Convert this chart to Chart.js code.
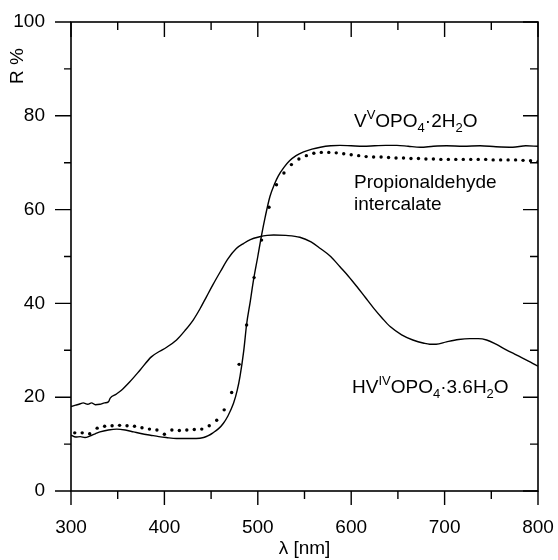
<!DOCTYPE html>
<html>
<head>
<meta charset="utf-8">
<script src="https://cdn.jsdelivr.net/npm/chart.js@4"></script>
<style>
  html, body { margin: 0; padding: 0; background: #fff; }
  #wrap { width: 558px; height: 560px; position: relative; }
</style>
</head>
<body>
<div id="wrap"><canvas id="spectra"></canvas></div>
<script>
// wavelength (nm) / reflectance (%)
const hvWave = [300, 305, 310, 313, 318, 322, 326, 331, 336, 340, 342, 348, 354, 363, 374, 386, 395, 402, 413, 422, 431, 438, 445, 452, 460, 468, 477, 485, 492, 502, 510, 517, 530, 545, 557, 567, 578, 588, 597, 606, 615, 624, 633, 642, 654, 666, 678, 684, 691, 702, 715, 727, 736, 745, 755, 766, 775, 784, 792, 800];
const hvR    = [18.0, 18.3, 18.6, 18.8, 18.5, 18.8, 18.4, 18.5, 18.8, 19.0, 19.8, 20.6, 21.5, 23.3, 25.8, 28.6, 29.8, 30.6, 32.2, 34.2, 36.5, 38.8, 41.4, 44.0, 46.8, 49.5, 51.7, 52.8, 53.6, 54.2, 54.5, 54.6, 54.5, 54.1, 53.1, 51.7, 50.0, 47.8, 45.8, 43.6, 41.3, 39.0, 36.9, 35.0, 33.3, 32.2, 31.5, 31.3, 31.3, 31.8, 32.3, 32.5, 32.5, 32.2, 31.3, 30.1, 29.2, 28.3, 27.5, 26.6];

const vvWave = [300, 305, 310, 315, 320, 326, 331, 340, 349, 358, 367, 376, 385, 394, 402, 413, 424, 434, 442, 447, 452, 458, 463, 468, 474, 478, 481, 485, 488, 492, 495, 500, 504, 508, 513, 518, 522, 528, 534, 541, 549, 558, 567, 578, 588, 600, 613, 625, 637, 649, 661, 674, 688, 702, 720, 738, 755, 773, 787, 800];
const vvR    = [11.9, 11.5, 11.6, 11.4, 11.7, 12.2, 12.6, 13.0, 13.2, 13.0, 12.6, 12.2, 11.9, 11.6, 11.4, 11.2, 11.2, 11.2, 11.4, 11.8, 12.4, 13.3, 14.4, 16.0, 18.7, 21.5, 24.5, 30.0, 35.5, 40.5, 44.5, 50.0, 54.5, 58.5, 62.8, 65.5, 67.2, 69.0, 70.4, 71.5, 72.3, 72.9, 73.3, 73.6, 73.7, 73.6, 73.5, 73.6, 73.7, 73.7, 73.5, 73.3, 73.5, 73.6, 73.5, 73.6, 73.4, 73.3, 73.6, 73.5];

const propWave = [304, 312, 320, 328, 336, 344, 352, 360, 368, 376, 384, 392, 400, 408, 416, 424, 432, 440, 448, 456, 464, 472, 480, 488, 496, 504, 512, 520, 528, 536, 544, 552, 560, 568, 576, 584, 592, 600, 608, 616, 624, 632, 640, 648, 656, 664, 672, 680, 688, 696, 704, 712, 720, 728, 736, 744, 752, 760, 768, 776, 784, 792, 800];
const propR    = [12.4, 12.4, 12.2, 13.4, 13.8, 13.9, 14.0, 13.9, 13.8, 13.5, 13.2, 13.0, 12.1, 13.0, 12.9, 13.0, 13.1, 13.2, 13.9, 15.1, 17.3, 21.0, 27.0, 35.4, 45.5, 53.5, 60.5, 65.3, 67.8, 69.6, 70.8, 71.5, 72.0, 72.2, 72.2, 72.1, 71.9, 71.7, 71.5, 71.3, 71.2, 71.2, 71.1, 71.0, 71.0, 70.9, 70.9, 70.8, 70.8, 70.7, 70.7, 70.7, 70.7, 70.7, 70.7, 70.7, 70.6, 70.6, 70.6, 70.6, 70.5, 70.4, 70.2];

const xTicks = [300, 400, 500, 600, 700, 800];
const yTicks = [0, 20, 40, 60, 80, 100];

const FONT = '"Liberation Sans", Arial, Helvetica, sans-serif';

const toPoints = (xs, ys) => xs.map((x, i) => ({ x: x, y: ys[i] }));

// tick marks: left/bottom point out, top/right point in, minor ones shorter
const frameTicks = {
  id: 'frameTicks',
  afterDraw(chart) {
    const { ctx, chartArea: a, scales } = chart;
    const xs = scales.x, ys = scales.y;
    ctx.save();
    ctx.strokeStyle = '#000';
    ctx.lineWidth = 1.6;
    ctx.strokeRect(a.left, a.top, a.right - a.left, a.bottom - a.top);
    ctx.lineWidth = 1.4;
    ctx.beginPath();
    for (let v = 300; v <= 800; v += 50) {
      const px = xs.getPixelForValue(v);
      const major = v % 100 === 0;
      ctx.moveTo(px, a.bottom); ctx.lineTo(px, a.bottom + (major ? 14 : 8));
      ctx.moveTo(px, a.top); ctx.lineTo(px, a.top + (major ? 15 : 8));
    }
    for (let v = 0; v <= 100; v += 10) {
      const py = ys.getPixelForValue(v);
      const major = v % 20 === 0;
      ctx.moveTo(a.left, py); ctx.lineTo(a.left - (major ? 16 : 7), py);
      ctx.moveTo(a.right, py); ctx.lineTo(a.right - (major ? 15 : 8), py);
    }
    ctx.stroke();
    ctx.restore();
  }
};

// rich text with super/subscripts
function drawRich(ctx, x, base, parts) {
  let cx = x;
  parts.forEach(([txt, kind]) => {
    let size = 19, dy = 0;
    if (kind === 'sup') { size = 13; dy = -8; }
    if (kind === 'sub') { size = 13; dy = 5; }
    ctx.font = size + 'px ' + FONT;
    ctx.fillText(txt, cx, base + dy);
    cx += ctx.measureText(txt).width;
  });
}

const labels = {
  id: 'labels',
  afterDraw(chart) {
    const ctx = chart.ctx;
    ctx.save();
    ctx.fillStyle = '#000';
    ctx.textAlign = 'left';
    ctx.textBaseline = 'alphabetic';
    drawRich(ctx, 354, 127, [['V', 'n'], ['V', 'sup'], ['OPO', 'n'], ['4', 'sub'], ['\u00b72H', 'n'], ['2', 'sub'], ['O', 'n']]);
    drawRich(ctx, 354, 188, [['Propionaldehyde', 'n']]);
    drawRich(ctx, 354, 210, [['intercalate', 'n']]);
    drawRich(ctx, 352, 393, [['HV', 'n'], ['IV', 'sup'], ['OPO', 'n'], ['4', 'sub'], ['\u00b73.6H', 'n'], ['2', 'sub'], ['O', 'n']]);
    // y axis title sits near the top of the axis
    ctx.translate(18, 66);
    ctx.rotate(-Math.PI / 2);
    ctx.textAlign = 'center';
    ctx.textBaseline = 'middle';
    ctx.font = '19px ' + FONT;
    ctx.fillText('R %', 0, 0);
    ctx.restore();
  }
};

new Chart(document.getElementById('spectra'), {
  type: 'line',
  data: {
    datasets: [
      {
        label: 'HVIVOPO4·3.6H2O',
        data: toPoints(hvWave, hvR),
        borderColor: '#000',
        borderWidth: 1.4,
        pointRadius: 0,
        cubicInterpolationMode: 'monotone',
        fill: false
      },
      {
        label: 'VVOPO4·2H2O',
        data: toPoints(vvWave, vvR),
        borderColor: '#000',
        borderWidth: 1.4,
        pointRadius: 0,
        cubicInterpolationMode: 'monotone',
        fill: false
      },
      {
        label: 'Propionaldehyde intercalate',
        data: toPoints(propWave, propR),
        showLine: false,
        pointRadius: 1.7,
        pointBorderWidth: 0,
        pointBackgroundColor: '#000',
        borderColor: '#000'
      }
    ]
  },
  plugins: [frameTicks, labels],
  options: {
    responsive: true,
    maintainAspectRatio: false,
    animation: false,
    layout: { padding: { left: 0, right: 20, top: 22, bottom: 0 } },
    plugins: {
      legend: { display: false },
      tooltip: { enabled: false }
    },
    scales: {
      x: {
        type: 'linear',
        min: 300,
        max: 800,
        afterBuildTicks: s => { s.ticks = xTicks.map(v => ({ value: v })); },
        afterFit: s => { s.height = 69; s.paddingLeft = 0; s.paddingRight = 0; },
        grid: { display: false, drawTicks: false },
        border: { display: false },
        ticks: { color: '#000', padding: 25, maxRotation: 0, font: { family: FONT, size: 19 } },
        title: { display: true, text: 'λ [nm]', color: '#000', padding: { top: 0, bottom: 0 }, font: { family: FONT, size: 19 } }
      },
      y: {
        min: 0,
        max: 100,
        afterBuildTicks: s => { s.ticks = yTicks.map(v => ({ value: v })); },
        afterFit: s => { s.width = 71; s.paddingTop = 0; s.paddingBottom = 0; },
        grid: { display: false, drawTicks: false },
        border: { display: false },
        ticks: { color: '#000', padding: 26, font: { family: FONT, size: 19 } },
        title: { display: false }
      }
    }
  }
});
</script>
</body>
</html>
